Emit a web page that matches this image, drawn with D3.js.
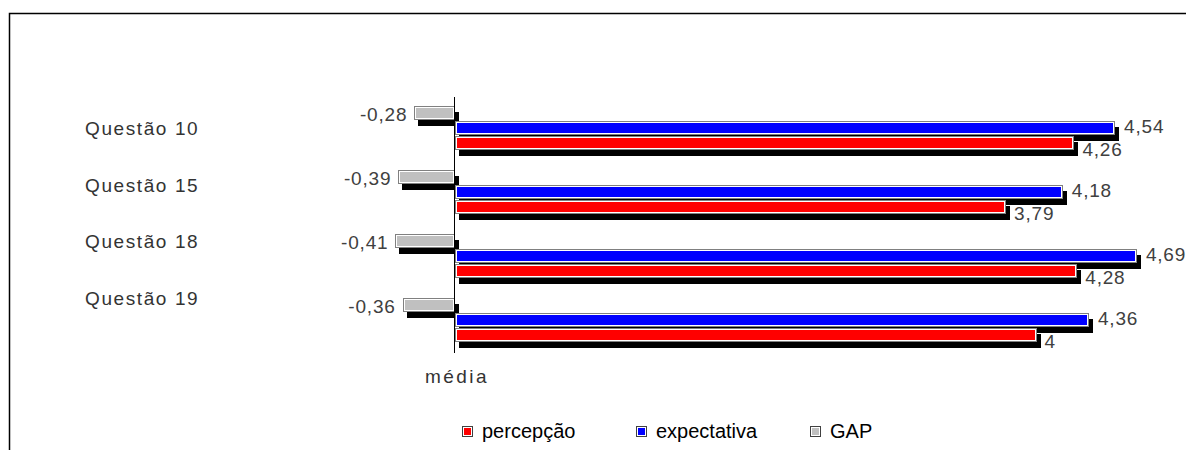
<!DOCTYPE html>
<html>
<head>
<meta charset="utf-8">
<script src="https://cdn.jsdelivr.net/npm/d3@7"></script>
<style>
  html, body { margin: 0; padding: 0; background: #fff; }
  svg { display: block; font-family: "Liberation Sans", Arial, sans-serif; }
</style>
</head>
<body>
<svg id="chart" width="1186" height="450"></svg>
<script>
// Médias por questão
const categories = ["Questão 10", "Questão 15", "Questão 18", "Questão 19"];
const percepcao = [4.26, 3.79, 4.28, 4];
const expectativa = [4.54, 4.18, 4.69, 4.36];
const gap = [-0.28, -0.39, -0.41, -0.36];

const seriesNames = ["GAP", "expectativa", "percepção"];          // top to bottom inside each group
const legendOrder = ["percepção", "expectativa", "GAP"];
const seriesValues = { "GAP": gap, "expectativa": expectativa, "percepção": percepcao };
const seriesColors = { "GAP": "#c0c0c0", "expectativa": "#0000ff", "percepção": "#ff0000" };

const fmt = v => String(v).replace(".", ",");

const svg = d3.select("#chart");

// frame lines (top and left)
svg.append("path")
  .attr("d", "M9.5,450 V13.5 H1186")
  .attr("fill", "none").attr("stroke", "#000").attr("stroke-width", 1.5);

// scales
const x = d3.scaleLinear().domain([0, 5]).range([455, 1182]);
const y = d3.scaleBand().domain(categories).range([97, 353])
  .paddingInner(0.3125).paddingOuter(0.15625).align(0.45);
const ySeries = d3.scaleBand().domain(seriesNames).range([0, y.bandwidth()])
  .paddingInner(0.1).paddingOuter(0);
const yLabel = d3.scalePoint().domain(categories).range([128, 298]);

const rows = [];
categories.forEach((c, i) => {
  seriesNames.forEach(s => {
    rows.push({ cat: c, series: s, value: seriesValues[s][i] });
  });
});

const barX = d => Math.round(Math.min(x(0), x(d.value)));
const barW = d => Math.round(Math.abs(x(d.value) - x(0)));
const barY = d => Math.round(y(d.cat) + ySeries(d.series));
const barH = Math.round(ySeries.bandwidth());

// drop shadows
svg.append("g").selectAll("rect").data(rows).join("rect")
  .attr("x", d => barX(d) + 4).attr("y", d => barY(d) + 6)
  .attr("width", d => barW(d)).attr("height", barH)
  .attr("fill", "#000");

// bars: grey outline, white inner line, colour fill
const bars = svg.append("g").selectAll("g").data(rows).join("g");
bars.append("rect")
  .attr("x", barX).attr("y", barY)
  .attr("width", barW).attr("height", barH)
  .attr("fill", "#808080");
bars.append("rect")
  .attr("x", d => barX(d) + 1).attr("y", d => barY(d) + 1)
  .attr("width", d => barW(d) - 2).attr("height", barH - 2)
  .attr("fill", "#ffffff");
bars.append("rect")
  .attr("x", d => barX(d) + 2).attr("y", d => barY(d) + 2)
  .attr("width", d => barW(d) - 4).attr("height", barH - 4)
  .attr("fill", d => seriesColors[d.series]);

// value axis line at zero
svg.append("line")
  .attr("x1", x(0) - 0.5).attr("x2", x(0) - 0.5)
  .attr("y1", y.range()[0]).attr("y2", y.range()[1])
  .attr("stroke", "#000").attr("stroke-width", 1);

// value labels
const labelG = svg.append("g")
  .attr("font-size", 19).attr("fill", "#404040").attr("letter-spacing", 0.8);
labelG.selectAll("text").data(rows).join("text")
  .attr("text-anchor", d => d.value < 0 ? "end" : "start")
  .attr("x", d => d.value < 0 ? x(d.value) - 7 : x(d.value) + (d.series === "expectativa" ? 9 : 8))
  .attr("y", d => {
    const c = barY(d) + barH / 2;
    if (d.series === "GAP") return c + 8;
    if (d.series === "expectativa") return c + 5;
    return c + 13;
  })
  .text(d => fmt(d.value));

// category labels
svg.append("g")
  .attr("font-size", 19).attr("fill", "#333").attr("letter-spacing", 1.6)
  .selectAll("text").data(categories).join("text")
  .attr("x", 85).attr("y", d => yLabel(d) + 7)
  .text(d => d);

// axis title
svg.append("text")
  .attr("x", x(0) + 2).attr("y", 383)
  .attr("text-anchor", "middle")
  .attr("font-size", 19).attr("fill", "#333").attr("letter-spacing", 2.5)
  .text("média");

// legend
const legendX = d3.scalePoint().domain(legendOrder).range([462, 810]);
const lg = svg.append("g").selectAll("g").data(legendOrder).join("g")
  .attr("transform", d => `translate(${legendX(d)},426)`);
lg.append("rect").attr("width", 11).attr("height", 11).attr("fill", "#404040");
lg.append("rect").attr("x", 1).attr("y", 1).attr("width", 9).attr("height", 9).attr("fill", "#fff");
lg.append("rect").attr("x", 2).attr("y", 2).attr("width", 7).attr("height", 7)
  .attr("fill", d => seriesColors[d]);
lg.append("text")
  .attr("x", 20).attr("y", 12)
  .attr("font-size", 20).attr("fill", "#000")
  .text(d => d);
</script>
</body>
</html>
